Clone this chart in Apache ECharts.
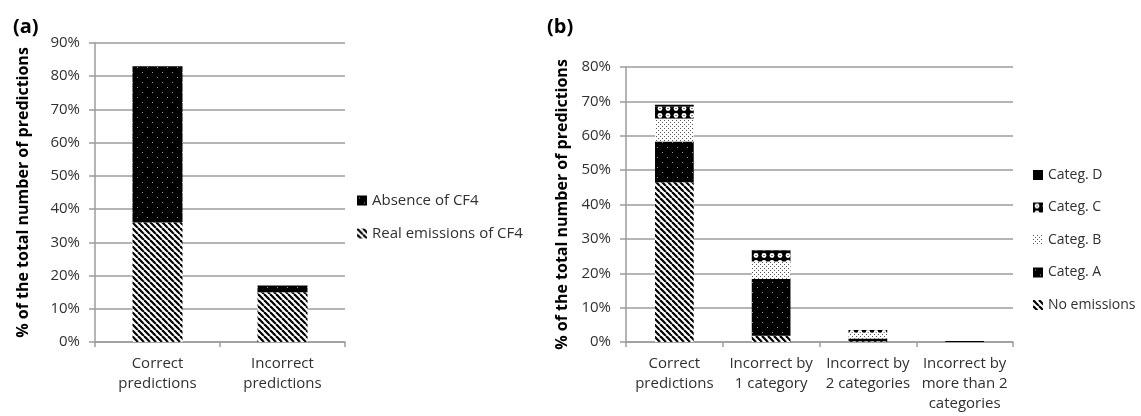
<!DOCTYPE html>
<html>
<head>
<meta charset="utf-8">
<script src="https://cdn.jsdelivr.net/npm/echarts@6/dist/echarts.min.js"></script>
<style>
  html, body { margin: 0; padding: 0; background: #fff; }
  #chart { width: 1141px; height: 416px; }
</style>
</head>
<body>
<div id="chart"></div>
<script>
// Panel (a): CF4 emission predictions
const categoriesA = ['Correct\npredictions', 'Incorrect\npredictions'];
const realEmissions = [36, 15];
const absenceCF4 = [47, 2];
const ticksA = { min: 0, max: 90, interval: 10 };

// Panel (b): predictions by emission category
const categoriesB = ['Correct\npredictions', 'Incorrect by\n1 category', 'Incorrect by\n2 categories', 'Incorrect by\nmore than 2\ncategories'];
const noEmissions = [46.5, 1.8, 0.2, 0];
const categA = [11.8, 16.5, 0.8, 0.3];
const categB = [6.7, 5.1, 1.8, 0];
const categC = [3.5, 3.2, 0.7, 0];
const categD = [0.5, 0.2, 0, 0];
const ticksB = { min: 0, max: 80, interval: 10 };

const yName = '% of the total number of predictions';

// Fill patterns drawn on small tiles
function tile(w, h, draw) {
  const c = document.createElement('canvas');
  c.width = w; c.height = h;
  const ctx = c.getContext('2d');
  draw(ctx, w, h);
  return { image: c, repeat: 'repeat' };
}
const stripes = tile(6, 6, (ctx, w, h) => {
  ctx.fillStyle = '#fff'; ctx.fillRect(0, 0, w, h);
  ctx.strokeStyle = '#000'; ctx.lineWidth = 2.2;
  for (let o = -w; o <= w; o += w) {
    ctx.beginPath(); ctx.moveTo(o, 0); ctx.lineTo(o + w, h); ctx.stroke();
  }
});
const darkDots = tile(10, 10, (ctx, w, h) => {
  ctx.fillStyle = '#000'; ctx.fillRect(0, 0, w, h);
  ctx.fillStyle = '#9a9a9a';
  ctx.fillRect(2, 2, 1, 1); ctx.fillRect(7, 7, 1, 1);
});
const lightDots = tile(4, 4, (ctx, w, h) => {
  ctx.fillStyle = '#fff'; ctx.fillRect(0, 0, w, h);
  ctx.fillStyle = '#555';
  ctx.fillRect(0, 0, 1, 1); ctx.fillRect(2, 2, 1, 1);
});
const confetti = tile(8, 7, (ctx, w, h) => {
  ctx.fillStyle = '#000'; ctx.fillRect(0, 0, w, h);
  ctx.fillStyle = '#fff';
  ctx.beginPath(); ctx.arc(4, 3.5, 2.4, 0, Math.PI * 2); ctx.fill();
  ctx.fillStyle = '#000';
  ctx.fillRect(3.5, 3, 1, 1);
});
const solid = '#000';

const gridColor = '#9c9c9c';
const font = 'Open Sans';
const textColor = '#303030';

function yAxis(gridIndex, t) {
  return {
    type: 'value', gridIndex, min: t.min, max: t.max, interval: t.interval,
    name: yName, nameLocation: 'middle', nameRotate: 90,
    nameGap: gridIndex === 0 ? 64 : 56,
    nameTextStyle: { fontFamily: font, fontWeight: 'bold', fontSize: 16, color: '#000' },
    axisLine: { show: true, lineStyle: { color: gridColor, width: 1.5 } },
    axisTick: { show: true, length: 6, lineStyle: { color: gridColor, width: 1.5 } },
    splitLine: { lineStyle: { color: gridColor, width: 1.5 } },
    axisLabel: { formatter: '{value}%', fontFamily: font, fontSize: 15, color: textColor, margin: 15 }
  };
}
function xAxis(gridIndex, data) {
  return {
    type: 'category', gridIndex, data,
    axisLine: { lineStyle: { color: gridColor, width: 1.5 } },
    axisTick: { show: true, length: 5, lineStyle: { color: gridColor, width: 1.5 } },
    axisLabel: { fontFamily: font, fontSize: 15, color: textColor, lineHeight: 20, margin: 12, interval: 0 }
  };
}
function bar(name, data, color, idx, stack) {
  return {
    type: 'bar', name, data, stack, barWidth: '40%',
    xAxisIndex: idx, yAxisIndex: idx,
    itemStyle: { color }, emphasis: { disabled: true }
  };
}

const chart = echarts.init(document.getElementById('chart'), null, { renderer: 'canvas' });
chart.setOption({
  animation: false,
  title: [
    { text: '(a)', left: 8, top: 12, textStyle: { fontFamily: font, fontWeight: 'bold', fontSize: 20, color: '#000' } },
    { text: '(b)', left: 542, top: 12, textStyle: { fontFamily: font, fontWeight: 'bold', fontSize: 20, color: '#000' } }
  ],
  grid: [
    { left: 95, right: 796, top: 43, bottom: 74 },
    { left: 626, right: 128, top: 67, bottom: 74 }
  ],
  xAxis: [xAxis(0, categoriesA), xAxis(1, categoriesB)],
  yAxis: [yAxis(0, ticksA), yAxis(1, ticksB)],
  legend: [
    {
      data: ['Absence of CF4', 'Real emissions of CF4'],
      orient: 'vertical', left: 352, top: 188, itemGap: 18,
      itemWidth: 10, itemHeight: 10, icon: 'rect',
      textStyle: { fontFamily: font, fontSize: 15, color: textColor }
    },
    {
      data: ['Categ. D', 'Categ. C', 'Categ. B', 'Categ. A', 'No emissions'],
      orient: 'vertical', left: 1028, top: 163, itemGap: 18.5,
      itemWidth: 10, itemHeight: 10, icon: 'rect',
      textStyle: { fontFamily: font, fontSize: 14, color: textColor }
    }
  ],
  series: [
    bar('Real emissions of CF4', realEmissions, stripes, 0, 'a'),
    bar('Absence of CF4', absenceCF4, darkDots, 0, 'a'),
    bar('No emissions', noEmissions, stripes, 1, 'b'),
    bar('Categ. A', categA, darkDots, 1, 'b'),
    bar('Categ. B', categB, lightDots, 1, 'b'),
    bar('Categ. C', categC, confetti, 1, 'b'),
    bar('Categ. D', categD, solid, 1, 'b')
  ]
});
</script>
</body>
</html>
